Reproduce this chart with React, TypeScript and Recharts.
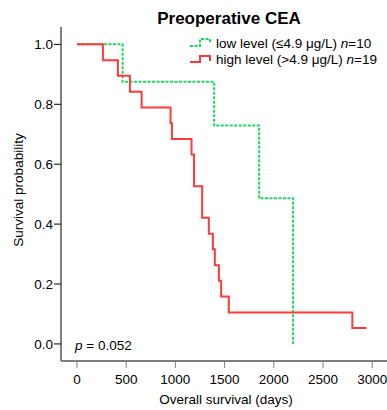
import { LineChart, Line, XAxis, YAxis, Customized } from "recharts"

// Kaplan-Meier steps (days, survival probability)
const lowDays = [0, 464, 1394, 1851, 2196]
const lowSurv = [1.0, 0.875, 0.729, 0.486, 0.0]

const highDays = [0, 264, 416, 538, 657, 951, 965, 1164, 1190, 1272, 1340, 1381, 1401, 1442, 1465, 1543, 2798, 2941]
const highSurv = [1.0, 0.947, 0.895, 0.842, 0.789, 0.737, 0.684, 0.632, 0.526, 0.421, 0.368, 0.316, 0.263, 0.211, 0.158, 0.105, 0.053, 0.053]

const xTicks = [0, 500, 1000, 1500, 2000, 2500, 3000]
const yTicks = [0, 0.2, 0.4, 0.6, 0.8, 1.0]

const lowData = lowDays.map((d, i) => ({ day: d, surv: lowSurv[i] }))
const highData = highDays.map((d, i) => ({ day: d, surv: highSurv[i] }))

const GREEN = "#1fd65c"
const RED = "#ff3a3a"
const AXIS = "#7f7f7f"
const FONT = "'Liberation Sans', Arial, sans-serif"
const FS = 13.5

function Annotations() {
  return (
    <g fontFamily={FONT} fill="#000">
      <text x={229} y={24} textAnchor="middle" fontSize={17} fontWeight="bold">
        Preoperative CEA
      </text>
      <path d="M190 46 H200 V39 H210 V43" fill="none" stroke={GREEN} strokeWidth={2} strokeDasharray="3 1.5" />
      <text x={216} y={48} fontSize={FS}>
        low level (≤4.9 μg/L) <tspan fontStyle="italic">n</tspan>=10
      </text>
      <path d="M190 62 H200 V56 H210 V61" fill="none" stroke={RED} strokeWidth={2} />
      <text x={216} y={64} fontSize={FS}>
        high level (&gt;4.9 μg/L) <tspan fontStyle="italic">n</tspan>=19
      </text>
      <text x={75} y={350} fontSize={FS}>
        <tspan fontStyle="italic">p</tspan> = 0.052
      </text>
      <text x={226} y={404} textAnchor="middle" fontSize={FS}>
        Overall survival (days)
      </text>
      <text x={23} y={190} textAnchor="middle" fontSize={FS} transform="rotate(-90 23 190)">
        Survival probability
      </text>
    </g>
  )
}

export default function App() {
  return (
    <div style={{ position: "absolute", left: 0, top: 0, background: "#fff" }}>
      <LineChart width={387} height={410} margin={{ top: 27, right: 0, bottom: 0, left: 0 }}>
        <XAxis
          xAxisId="bottom"
          type="number"
          dataKey="day"
          domain={[-162, 3150]}
          ticks={xTicks}
          allowDataOverflow
          height={49}
          tickSize={7}
          tickMargin={6}
          stroke={AXIS}
          axisLine={{ stroke: AXIS, strokeWidth: 2 }}
          tickLine={{ stroke: AXIS }}
          tick={{ fill: "#000", fontSize: FS, fontFamily: FONT }}
        />
        <XAxis
          xAxisId="top"
          orientation="top"
          type="number"
          domain={[-162, 3150]}
          height={0}
          tick={false}
          tickLine={false}
          axisLine={{ stroke: AXIS, strokeWidth: 2 }}
        />
        <YAxis
          type="number"
          domain={[-0.057, 1.058]}
          ticks={yTicks}
          allowDataOverflow
          width={61}
          tickSize={7}
          tickMargin={1}
          axisLine={{ stroke: AXIS, strokeWidth: 2 }}
          tickLine={{ stroke: "#000" }}
          tick={{ fill: "#000", fontSize: FS, fontFamily: FONT }}
          tickFormatter={(v: number) => v.toFixed(1)}
        />
        <Line
          xAxisId="bottom"
          data={lowData}
          dataKey="surv"
          type="stepAfter"
          stroke={GREEN}
          strokeWidth={2}
          strokeDasharray="3 1.5"
          dot={false}
          isAnimationActive={false}
        />
        <Line
          xAxisId="bottom"
          data={highData}
          dataKey="surv"
          type="stepAfter"
          stroke={RED}
          strokeWidth={2}
          dot={false}
          isAnimationActive={false}
        />
        <Customized component={Annotations} />
      </LineChart>
    </div>
  )
}
